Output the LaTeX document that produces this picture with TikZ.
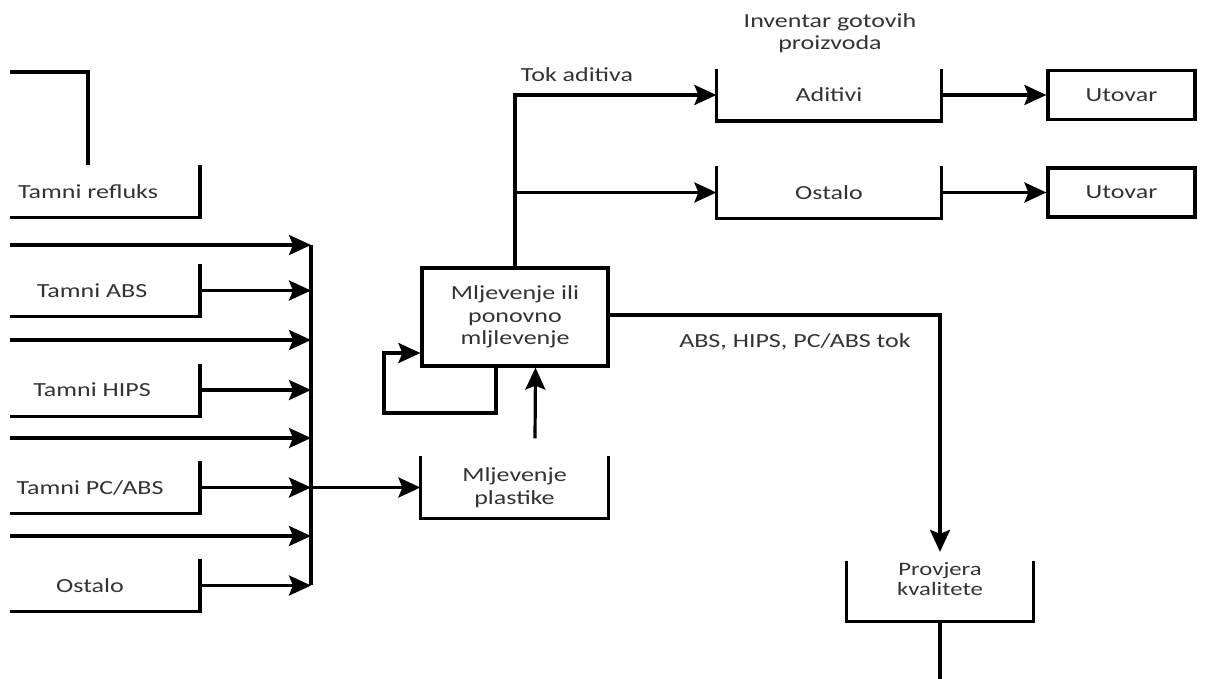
\documentclass[tikz,border=0pt]{standalone}
\usepackage{fontspec}
\setmainfont{Carlito}[FakeStretch=1.3]
\usetikzlibrary{arrows.meta,calc}
\begin{document}
\begin{tikzpicture}[x=1pt,y=-1pt,
  line width=3.2pt,
  every node/.style={font=\fontsize{20}{22.5}\selectfont, text=black!80, align=center, inner sep=0pt},
  arr/.style={-{Stealth[length=22pt,width=20pt,inset=4pt]}},
  tray/.style={rectangle, minimum width=#1, minimum height=49pt},
  tray/.default=222pt,
  boxnode/.style={rectangle, draw, minimum width=#1, minimum height=49pt}
]
\useasboundingbox (0,0) rectangle (1206,679);

% coordinates for open ends and bus
\coordinate (lft) at (10,0);
\coordinate (busT) at (311,245);
\coordinate (busB) at (311,585);
\coordinate (tlA) at (10,72);
\coordinate (tlB) at (88,165);
\coordinate (loopc) at (384,413);
\coordinate (outB) at (940,679);

% left trays (cut off at the left)
\node[tray=220pt] (refl) at (88,191.5) {Tamni refluks};
\node[tray=220pt] (abs) at (92,290.5) {Tamni ABS};
\node[tray=220pt] (hips) at (92,390) {Tamni HIPS};
\node[tray=220pt] (pcabs) at (90,487.5) {Tamni PC/ABS};
\node[tray=220pt] (ostL) at (90,585.5) {Ostalo};

\foreach \n in {refl,abs,hips,pcabs,ostL}{
  \draw (\n.south east -| lft) -- (\n.south east -| 200,0) -- (\n.north east -| 200,0);
}

% top-left incoming line
\draw (tlA) -| (tlB);

% main nodes
\node[rectangle, draw, minimum width=186pt, minimum height=98pt] (mlj) at (515,317) {Mljevenje ili\\ponovno\\mljlevenje};
\node[tray=185pt, minimum height=59pt] (plast) at (514.5,487.5) {Mljevenje\\plastike};
\node[tray] (adit) at (829,95) {Aditivi};
\node[tray] (ostR) at (829,192.5) {Ostalo};
\node[boxnode=147pt] (ut1) at (1121.5,95) {Utovar};
\node[boxnode=147pt] (ut2) at (1121.5,192.5) {Utovar};
\node[tray=184pt, minimum height=48pt, font=\fontsize{19}{20}\selectfont] (prov) at (940,591) {Provjera\\kvalitete\\[4pt]};

\foreach \n in {plast,adit,ostR,prov}{
  \draw (\n.north west) -- (\n.south west) -- (\n.south east) -- (\n.north east);
}

% labels
\node (lblinv) at (830,33) {Inventar gotovih\\proizvoda};
\node (lbltok) at (577,75) {Tok aditiva};
\node (lblabs) at (795,342) {ABS, HIPS, PC/ABS tok};

% bus
\draw (busT) -- (busB);

% arrows into bus
\draw[arr] (busT -| lft) -- (busT);
\draw[arr] (abs.east -| 200,0) -- (abs.east -| busT);
\draw[arr] (10,340) -- (311,340);
\draw[arr] (hips.east -| 200,0) -- (hips.east -| busT);
\draw[arr] (10,438) -- (311,438);
\draw[arr] (pcabs.east -| 200,0) -- (pcabs.east -| busT);
\draw[arr] (10,536) -- (311,536);
\draw[arr] (ostL.east -| 200,0) -- (ostL.east -| busT);

% bus to grinding
\draw[arr] (pcabs.east -| busT) -- (plast.west);

% grinding to re-grinding
\draw[arr] ([xshift=20.5pt,yshift=18pt]plast.north) -- ([xshift=20.5pt]mlj.south);

% self loop
\draw[arr] ([xshift=-19pt]mlj.south) |- (loopc) |- ([yshift=-36pt]mlj.west);

% trunk to inventory
\draw[arr] (mlj.north) |- (adit.west);
\draw[arr] (mlj.north |- ostR.west) -- (ostR.west);
\draw[arr] (adit.east) -- (ut1.west);
\draw[arr] (ostR.east) -- (ut2.west);

% ABS flow to quality check
\draw[arr] ([yshift=2pt]mlj.east) -| ([yshift=9pt]prov.north);
\draw (prov.south) -- (outB);
\end{tikzpicture}
\end{document}
